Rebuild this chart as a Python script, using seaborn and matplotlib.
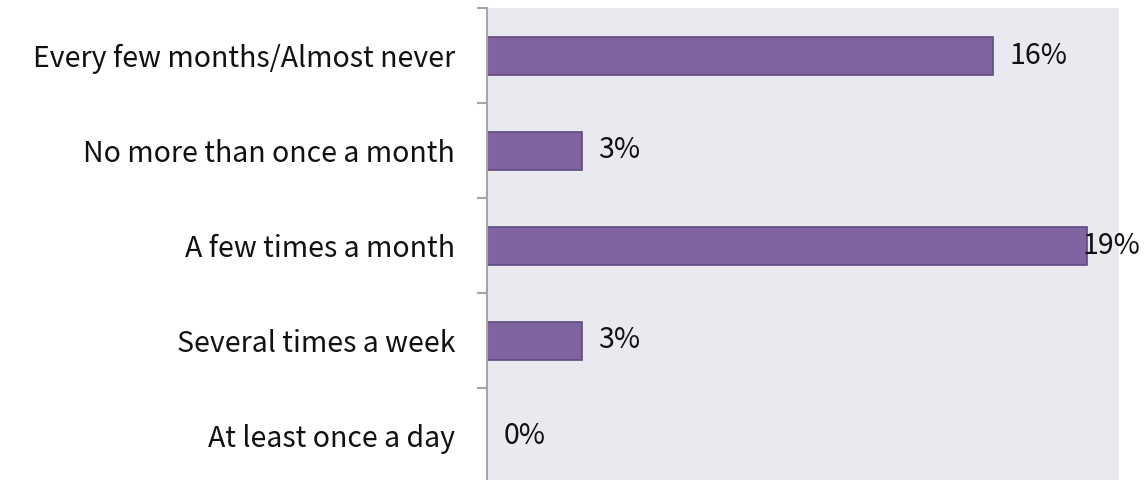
import matplotlib
matplotlib.use("Agg")
import matplotlib.pyplot as plt
import seaborn as sns
import pandas as pd

categories = [
    "Every few months/Almost never",
    "No more than once a month",
    "A few times a month",
    "Several times a week",
    "At least once a day",
]
shares = [0.16, 0.03, 0.19, 0.03, 0.00]
value_labels = ["16%", "3%", "19%", "3%", "0%"]

df = pd.DataFrame({"category": categories, "share": shares})

sns.set_style("white", {"axes.facecolor": "#EBE9F0", "axes.edgecolor": "#A6A6A6"})
plt.rcParams["font.family"] = ["Noto Sans CJK KR", "DejaVu Sans"]

fig = plt.figure(figsize=(11.44, 4.8), dpi=100)
ax = fig.add_axes([487 / 1144, -3 / 480, (1119 - 487) / 1144, (483 - 8) / 480])

sns.barplot(
    data=df, x="share", y="category", order=categories, orient="h",
    color="#8064A2", saturation=1, width=0.4,
    edgecolor="#5E4A80", linewidth=1.2, ax=ax,
)

ax.set_xlim(0, 0.20)
ax.set_ylim(len(categories) - 0.5, -0.5)
ax.set_xlabel("")
ax.set_ylabel("")
ax.set_xticks([])

for side in ("top", "right", "bottom"):
    ax.spines[side].set_visible(False)
ax.spines["left"].set_linewidth(1.5)
ax.spines["left"].set_color("#A6A6A6")

# category labels centred on bars, tick marks on category boundaries
ax.set_yticks(range(len(categories)))
ax.set_yticklabels(categories, fontsize=20.5, color="#111111")
ax.tick_params(axis="y", which="major", left=False, length=0, pad=23)
ax.set_yticks([i - 0.5 for i in range(len(categories))], minor=True)
ax.tick_params(axis="y", which="minor", left=True, length=7.5, width=1.5,
               color="#A6A6A6", direction="out")

for i, (v, lab) in enumerate(zip(shares, value_labels)):
    x = min(v + 0.0052, 0.1886)
    ax.text(x, i, lab, ha="left", va="center", fontsize=20.5, color="#111111")

fig.savefig("out.png", dpi=100)
